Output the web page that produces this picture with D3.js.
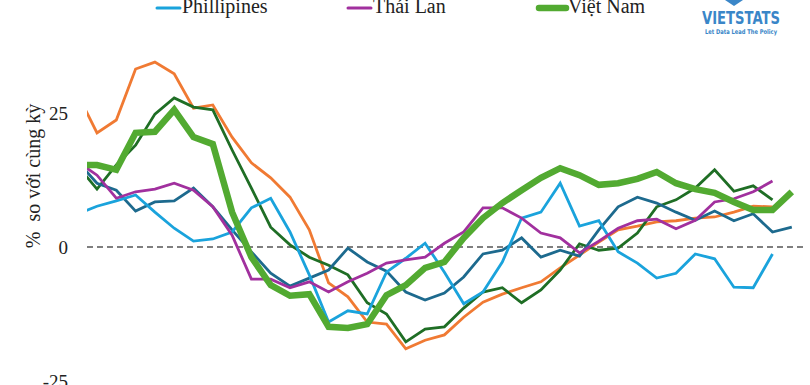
<!DOCTYPE html>
<html>
<head>
<meta charset="utf-8">
<script src="https://cdn.jsdelivr.net/npm/d3@7"></script>
<style>
  body { margin: 0; background: #fff; }
  svg { display: block; }
</style>
</head>
<body>
<div class="chart-wrapper"></div>
<script>
// series values (% so voi cung ky)
var orange    = [28.5,21.3,23.7,33.2,34.5,32.3,25.9,26.5,20.5,15.7,12.9,9.3,3.2,-6.7,-9.3,-14.0,-14.4,-19.0,-17.4,-16.4,-13.1,-10.3,-8.8,-7.6,-6.5,-3.9,-1.5,0.9,3.2,3.9,4.7,4.9,5.4,5.6,6.5,7.6,7.5];
var darkGreen = [15.1,10.8,15.3,19.0,24.8,27.8,26.1,25.6,18.1,11.0,3.7,0.4,-1.9,-3.4,-5.2,-10.4,-12.5,-17.7,-15.3,-14.9,-11.4,-8.4,-7.6,-10.4,-8.0,-4.3,0.6,-0.6,-0.2,2.6,7.5,8.8,11.0,14.4,10.4,11.4,8.8];
var teal      = [15.9,11.9,10.6,6.7,8.4,8.6,11.0,7.5,3.2,-0.9,-4.9,-7.3,-5.8,-4.3,-0.2,-2.8,-4.5,-8.4,-9.9,-8.6,-5.6,-1.3,-0.6,1.7,-1.9,-0.6,-1.7,3.2,7.5,9.3,8.2,6.5,5.0,6.7,4.9,6.2,2.8,3.7];
var phillipines = [6.2,7.6,8.6,9.7,6.5,3.5,1.1,1.5,2.8,7.3,9.1,2.8,-5.2,-14.0,-11.9,-12.5,-4.7,-2.1,0.7,-4.7,-10.6,-8.4,-2.8,5.4,6.5,11.9,3.9,4.9,-0.9,-3.0,-5.8,-4.9,-1.3,-2.2,-7.5,-7.6,-1.3];
var thaiLan   = [15.9,13.4,9.1,10.3,10.8,11.9,10.6,7.5,2.2,-6.0,-6.0,-7.6,-6.5,-8.4,-6.5,-4.9,-3.0,-2.4,-1.9,0.7,2.8,7.3,7.3,5.4,2.6,1.7,-1.1,1.1,3.5,4.9,5.2,3.4,5.0,8.4,9.0,10.3,12.3];
var vietNam   = [15.3,15.3,14.4,21.3,21.5,25.6,20.5,19.2,6.5,-1.9,-7.1,-9.1,-8.8,-14.9,-15.1,-14.4,-9.0,-7.1,-3.9,-2.8,1.7,5.4,8.2,10.6,12.9,14.7,13.4,11.6,11.9,12.7,14.0,11.9,10.8,10.1,8.4,6.9,6.9,10.3];

var yTicks = [-25, 0, 25];
var legendNames = ["Phillipines", "Thái Lan", "Việt Nam"];

var width = 810, height = 385;

var svg = d3.select(".chart-wrapper").append("svg")
  .attr("width", width)
  .attr("height", height);

// scales
var x = d3.scaleLinear().domain([0, 37]).range([77.7, 791.8]);
var y = d3.scaleLinear().domain([-25, 25]).range([381, 113]);

svg.append("defs").append("clipPath").attr("id", "plot")
  .append("rect").attr("x", 87).attr("y", 0).attr("width", 723).attr("height", height);

// y axis, labels only
var yAxis = svg.append("g")
  .attr("transform", "translate(87,0)")
  .call(d3.axisLeft(y).tickValues(yTicks).tickSize(0).tickPadding(19).tickFormat(function(d) { return String(d); }));
yAxis.select(".domain").remove();
yAxis.selectAll("text")
  .style("font-family", "'Liberation Serif', serif")
  .style("font-size", "19px")
  .attr("fill", "#222");

svg.append("text")
  .attr("transform", "translate(40,176) rotate(-90)")
  .attr("text-anchor", "middle")
  .style("font-family", "'Liberation Serif', serif")
  .style("font-size", "20px")
  .style("white-space", "pre")
  .attr("fill", "#222")
  .text("%  so với cùng kỳ");

// zero line
svg.append("line")
  .attr("x1", 87).attr("x2", 803)
  .attr("y1", y(0)).attr("y2", y(0))
  .attr("stroke", "#555").attr("stroke-width", 1.5)
  .attr("stroke-dasharray", "6,4");

var series = [
  { values: orange, color: "#f07a33", w: 2.8 },
  { values: darkGreen, color: "#1f6e25", w: 2.8 },
  { values: teal, color: "#1d6a8e", w: 2.8 },
  { values: phillipines, color: "#1aa3dc", w: 2.8 },
  { values: thaiLan, color: "#a1309e", w: 2.8 },
  { values: vietNam, color: "#52aa31", w: 6.5 }
];

var line = d3.line()
  .x(function(d, i) { return x(i); })
  .y(function(d) { return y(d); });

svg.append("g").attr("clip-path", "url(#plot)")
  .selectAll("path")
  .data(series)
  .enter().append("path")
  .attr("d", function(d) { return line(d.values); })
  .attr("fill", "none")
  .attr("stroke", function(d) { return d.color; })
  .attr("stroke-width", function(d) { return d.w; })
  .attr("stroke-linejoin", "miter")
  .attr("stroke-miterlimit", 3);

// legend (visible row)
var legendX = [157, 348, 539];
var legendColors = ["#1aa3dc", "#a1309e", "#52aa31"];
var legendW = [3, 3, 6.5];
var leg = svg.selectAll(".leg")
  .data(legendNames)
  .enter().append("g")
  .attr("class", "leg")
  .attr("transform", function(d, i) { return "translate(" + legendX[i] + ",0)"; });
leg.append("line")
  .attr("x1", 0).attr("x2", function(d, i) { return i == 2 ? 27 : 23; })
  .attr("y1", 8).attr("y2", 8)
  .attr("stroke", function(d, i) { return legendColors[i]; })
  .attr("stroke-width", function(d, i) { return legendW[i]; })
  .attr("stroke-linecap", "round");
leg.append("text")
  .attr("x", function(d, i) { return i == 2 ? 29 : 25; })
  .attr("y", 13)
  .style("font-family", "'Liberation Serif', serif")
  .style("font-size", "20px")
  .attr("fill", "#222")
  .text(function(d) { return d; });

// logo
var logo = svg.append("g");
logo.append("path")
  .attr("d", "M725,0 L743,0 L734,6 Z")
  .attr("fill", "#3a86c8");
logo.append("text")
  .attr("x", 702).attr("y", 24)
  .attr("textLength", 78).attr("lengthAdjust", "spacingAndGlyphs")
  .style("font-family", "'DejaVu Sans Condensed', 'DejaVu Sans', sans-serif")
  .style("font-weight", "bold")
  .style("font-size", "18px")
  .attr("fill", "#3a86c8")
  .text("VIETSTATS");
logo.append("text")
  .attr("x", 705).attr("y", 34)
  .attr("textLength", 72).attr("lengthAdjust", "spacingAndGlyphs")
  .style("font-family", "'DejaVu Sans Condensed', 'DejaVu Sans', sans-serif")
  .style("font-weight", "bold")
  .style("font-size", "6.5px")
  .attr("fill", "#3a86c8")
  .text("Let Data Lead The Policy");
</script>
</body>
</html>
